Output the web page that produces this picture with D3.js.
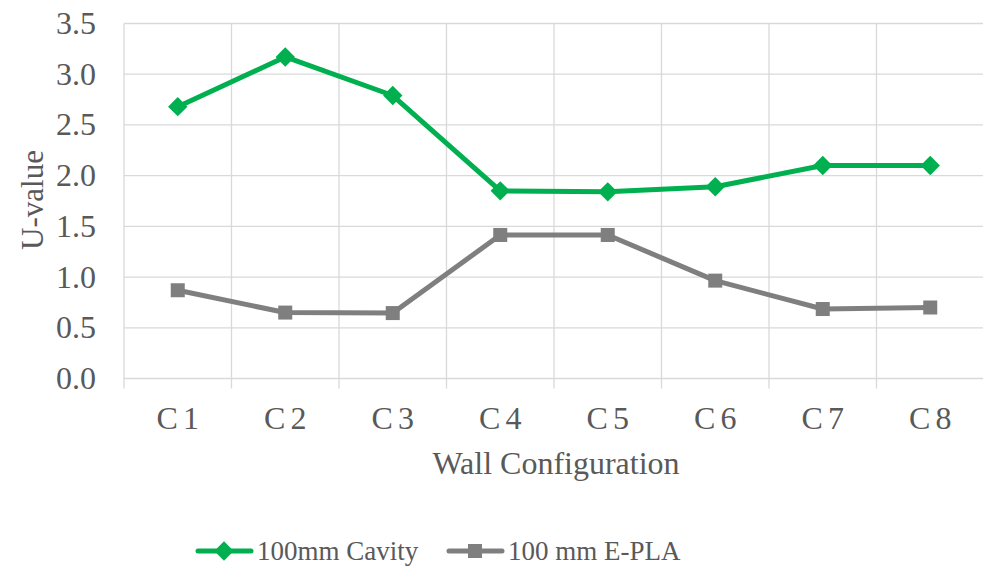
<!DOCTYPE html>
<html><head><meta charset="utf-8">
<script src="https://cdn.jsdelivr.net/npm/d3@7"></script>
<style>body{margin:0;background:#fff}svg{display:block}</style>
</head><body>
<script>
const categories = ["C 1","C 2","C 3","C 4","C 5","C 6","C 7","C 8"];
const cavity = [2.68, 3.17, 2.79, 1.85, 1.84, 1.89, 2.10, 2.10];
const epla = [0.87, 0.65, 0.645, 1.415, 1.415, 0.965, 0.685, 0.70];
const yTicks = [0, 0.5, 1.0, 1.5, 2.0, 2.5, 3.0, 3.5];
const seriesNames = ["100mm Cavity", "100 mm E-PLA"];

const W = 983, H = 567;
const pLeft = 124, pRight = 984, pTop = 23.5, pBottom = 378.5;
const FONT = "'Liberation Serif'";
const txt = "#595959";
const svg = d3.select("body").append("svg").attr("width", W).attr("height", H);
const x = d3.scaleBand().domain(categories).range([pLeft, pRight]);
const y = d3.scaleLinear().domain([0, 3.5]).range([pBottom, pTop]);
const grid = "#D9D9D9";
const T = (sel, fs) => sel.attr("font-family", FONT).attr("font-size", fs).attr("fill", txt);

svg.append("g").selectAll("line").data(yTicks).join("line")
  .attr("x1", pLeft).attr("x2", pRight).attr("y1", d => y(d)).attr("y2", d => y(d))
  .attr("stroke", grid).attr("stroke-width", 1.3);
const vx = categories.map(c => x(c)).concat([pRight]);
svg.append("g").selectAll("line").data(vx).join("line")
  .attr("x1", d => d).attr("x2", d => d).attr("y1", pTop).attr("y2", pBottom + 10)
  .attr("stroke", grid).attr("stroke-width", 1.3);

svg.append("g").selectAll("text").data(yTicks).join("text")
  .attr("x", 96).attr("y", d => y(d)).attr("dy", "0.33em").attr("text-anchor", "end")
  .call(T, 32).text(d => d.toFixed(1));
svg.append("g").selectAll("text").data(categories).join("text")
  .attr("x", d => x(d) + x.bandwidth() / 2).attr("y", 429).attr("text-anchor", "middle")
  .attr("word-spacing", -3)
  .call(T, 32).text(d => d);

svg.append("text").attr("transform", "translate(43,200) rotate(-90)").attr("text-anchor", "middle")
  .call(T, 31).text("U-value");
svg.append("text").attr("x", 556).attr("y", 474).attr("text-anchor", "middle")
  .call(T, 32).text("Wall Configuration");

const cx = (d, i) => x(categories[i]) + x.bandwidth() / 2;
const line = d3.line().x(cx).y(d => y(d));
const green = "#00B050", gray = "#7F7F7F";

svg.append("path").datum(epla).attr("d", line).attr("fill", "none").attr("stroke", gray).attr("stroke-width", 5).attr("stroke-linejoin", "round");
svg.append("g").selectAll("rect").data(epla).join("rect")
  .attr("x", (d, i) => cx(d, i) - 7).attr("y", d => y(d) - 7).attr("width", 14).attr("height", 14).attr("fill", gray);

svg.append("path").datum(cavity).attr("d", line).attr("fill", "none").attr("stroke", green).attr("stroke-width", 5).attr("stroke-linejoin", "round");
const diamond = d3.symbol().type(d3.symbolDiamond2).size(240);
svg.append("g").selectAll("path").data(cavity).join("path")
  .attr("transform", (d, i) => `translate(${cx(d, i)},${y(d)})`).attr("d", diamond).attr("fill", green);

const ly = 551;
const lg = svg.append("g");
lg.append("line").attr("x1", 198).attr("x2", 251).attr("y1", ly).attr("y2", ly).attr("stroke", green).attr("stroke-width", 5).attr("stroke-linecap", "round");
lg.append("path").attr("transform", `translate(224,${ly})`).attr("d", diamond).attr("fill", green);
lg.append("text").attr("x", 257).attr("y", ly).attr("dy", "0.33em").call(T, 27).text(seriesNames[0]);
lg.append("line").attr("x1", 449).attr("x2", 502).attr("y1", ly).attr("y2", ly).attr("stroke", gray).attr("stroke-width", 5).attr("stroke-linecap", "round");
lg.append("rect").attr("x", 475 - 7).attr("y", ly - 7).attr("width", 14).attr("height", 14).attr("fill", gray);
lg.append("text").attr("x", 508).attr("y", ly).attr("dy", "0.33em").call(T, 27).text(seriesNames[1]);
</script>
</body></html>
